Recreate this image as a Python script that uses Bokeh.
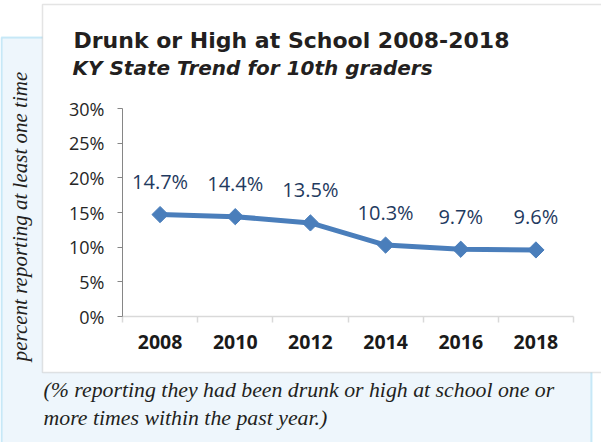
import numpy as np
from bokeh.plotting import figure
from bokeh.core.properties import value
from bokeh.models import (Range1d, BoxAnnotation, Label, LabelSet, ColumnDataSource,
                          FixedTicker, PrintfTickFormatter, LinearAxis)
from bokeh.embed import file_html
from bokeh.resources import INLINE

# ---- data ----
years = ["2008", "2010", "2012", "2014", "2016", "2018"]
values = [14.7, 14.4, 13.5, 10.3, 9.7, 9.6]
y_ticks = [0, 5, 10, 15, 20, 25, 30]
title_text = "Drunk or High at School 2008-2018"
subtitle_text = "KY State Trend for 10th graders"
y_label_text = "percent reporting at least one time"
caption_lines = ["(% reporting they had been drunk or high at school one or",
                 "more times within the past year.)"]

xs = [i + 0.5 for i in range(len(years))]
point_labels = [f"{v}%" for v in values]
src = ColumnDataSource(dict(x=xs, y=values, label=point_labels))

W, H = 601, 442
SANS = "Open Sans"
HEAD = "DejaVu Sans"
SERIF = "Liberation Serif"
TEXT = "#231f20"
ABS = {"position": "absolute", "left": "0px", "top": "0px"}

# ---------- background sheet (boxes + texts) ----------
bg = figure(width=W, height=H, x_range=Range1d(0, W), y_range=Range1d(H, 0),
            output_backend="svg", toolbar_location=None,
            x_axis_type=None, y_axis_type=None, min_border=0, styles=ABS)
bg.outline_line_color = None
bg.background_fill_color = "white"
bg.border_fill_color = "white"


def cbox(l, r, t, b, **kw):
    return BoxAnnotation(left=l, right=r, top=t, bottom=b,
                         left_units="canvas", right_units="canvas",
                         top_units="canvas", bottom_units="canvas", **kw)


bg.add_layout(cbox(1, 591, 37, 470, fill_color="#eef6fc", fill_alpha=1,
                   line_color="#5bc0ec", line_width=2))
bg.add_layout(cbox(42, 660, 4, 372, fill_color="white", fill_alpha=1,
                   line_color="#a6a6a6", line_width=1.5))

bg.add_layout(Label(x=73, y=40, x_units="canvas", y_units="canvas", text=title_text,
                    text_font=HEAD, text_font_size="22px", text_font_style="bold",
                    text_color=TEXT, text_baseline="alphabetic"))
bg.add_layout(Label(x=72, y=67, x_units="canvas", y_units="canvas", text=subtitle_text,
                    text_font=HEAD, text_font_size="20px", text_font_style="bold italic",
                    text_color=TEXT, text_baseline="alphabetic"))
bg.add_layout(Label(x=19, y=216, x_units="canvas", y_units="canvas", text=y_label_text,
                    angle=np.pi / 2, text_align="center", text_baseline="middle",
                    text_font=SERIF, text_font_size="21px", text_font_style="italic",
                    text_color=TEXT))
for i, line in enumerate(caption_lines):
    bg.add_layout(Label(x=43, y=389 + 28 * i, x_units="canvas", y_units="canvas", text=line,
                        text_font=SERIF, text_font_size="21.8px", text_font_style="italic",
                        text_color=TEXT, text_baseline="alphabetic"))

# ---------- chart (transparent, on top) ----------
p = figure(width=W, height=H,
           x_range=Range1d(0, len(years)), y_range=Range1d(0, 30),
           output_backend="svg", toolbar_location=None,
           x_axis_type=None, y_axis_type=None,
           min_border_left=122, min_border_right=28,
           min_border_top=108, min_border_bottom=126, styles=ABS)
p.outline_line_color = None
p.background_fill_alpha = 0
p.border_fill_alpha = 0

yaxis = LinearAxis(ticker=FixedTicker(ticks=y_ticks),
                   formatter=PrintfTickFormatter(format="%d%%"))
yaxis.axis_line_color = "#868686"
yaxis.major_tick_line_color = "#868686"
yaxis.major_tick_in = 0
yaxis.major_tick_out = 5
yaxis.minor_tick_line_color = None
yaxis.major_label_text_font = SANS
yaxis.major_label_text_font_size = "18px"
yaxis.major_label_text_color = "#262626"
yaxis.major_label_standoff = 13
p.add_layout(yaxis, "left")

xaxis = LinearAxis(ticker=FixedTicker(ticks=xs, minor_ticks=list(range(len(years) + 1))),
                   major_label_overrides={x: y for x, y in zip(xs, years)})
xaxis.axis_line_color = "#d9d9d9"
xaxis.axis_line_width = 1.5
xaxis.major_tick_line_color = None
xaxis.major_tick_in = 0
xaxis.major_tick_out = 0
xaxis.minor_tick_line_color = "#d9d9d9"
xaxis.minor_tick_line_width = 1.5
xaxis.minor_tick_in = 0
xaxis.minor_tick_out = 6
xaxis.major_label_text_font = SANS
xaxis.major_label_text_font_size = "19.5px"
xaxis.major_label_text_font_style = "bold"
xaxis.major_label_text_color = "#1a1a1a"
xaxis.major_label_standoff = 12
p.add_layout(xaxis, "below")

p.line("x", "y", source=src, line_color="#4a7ebb", line_width=5)
p.scatter("x", "y", source=src, marker="square", angle=np.pi / 4, size=11.5,
          fill_color="#4a7ebb", line_color="#4a7ebb")
p.add_layout(LabelSet(x="x", y="y", text="label", source=src, y_offset=33,
                      text_align="center", text_baseline="middle",
                      text_font=value(SANS), text_font_size="20px", text_color="#1f3a60"))

open("out.html", "w").write(file_html([bg, p], INLINE))
